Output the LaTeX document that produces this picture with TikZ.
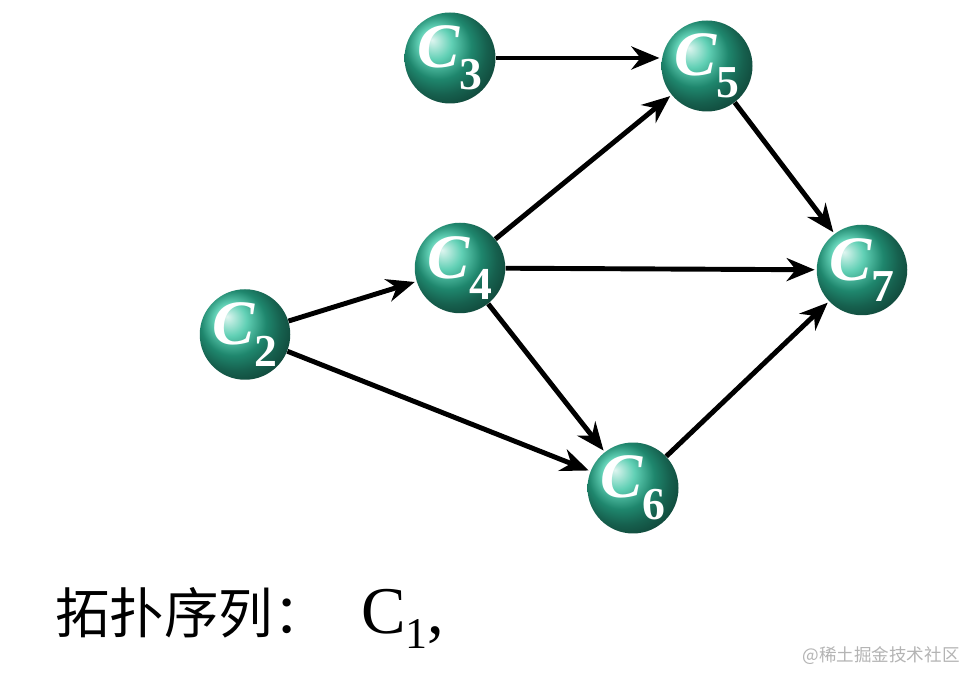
\documentclass[tikz,border=0pt]{standalone}
\usepackage{fontspec}
\setmainfont{Liberation Serif}
\newfontfamily\cjk{Noto Sans CJK SC}
\usepackage{xcolor}
\usetikzlibrary{arrows.meta,positioning,shadings}
\definecolor{ballteal}{HTML}{2CC09C}
\definecolor{markgray}{HTML}{B4B4B4}
\newcommand{\cv}[1]{C\raisebox{-0.34em}{\fontsize{26}{26}\selectfont\upshape #1}}
\tikzset{
  vertex/.style={circle,shading=ball,ball color=ballteal,minimum size=1.6cm,
                 inner sep=0pt,text=white,
                 font=\fontsize{36}{36}\selectfont\bfseries\itshape},
  edgearr/.style={-{Stealth[length=5.6mm,width=4.6mm]},line width=2.8pt,draw=black,
                  shorten >=1pt},
  caption/.style={anchor=base west,inner sep=0pt}
}

\begin{document}
\begin{tikzpicture}
  \useasboundingbox[fill=white] (0,0) rectangle (19.32,13.46);
  % vertices
  \node[vertex] (c3) at (9.00,12.30) {\cv{3}};
  \node[vertex] (c5) at (14.14,12.14) {\cv{5}};
  \node[vertex] (c4) at (9.20,8.10) {\cv{4}};
  \node[vertex] (c7) at (17.24,8.06) {\cv{7}};
  \node[vertex] (c2) at (4.90,6.77) {\cv{2}};
  \node[vertex] (c6) at (12.66,3.70) {\cv{6}};
  % edges
  \draw[edgearr] (c3) -- (c3 -| c5.west);
  \draw[edgearr] (c5) -- (c7);
  \draw[edgearr] (c4) -- (c5);
  \draw[edgearr] (c4) -- (c7);
  \draw[edgearr] (c4) -- (c6);
  \draw[edgearr] (c2) -- (c4);
  \draw[edgearr] (c2) -- (c6);
  \draw[edgearr] (c6) -- (c7);
  % sequence
  \node[caption,font=\cjk\fontsize{31}{31}\selectfont] (seq) at (1.10,0.78) {拓扑序列：};
  \node[caption,font=\fontsize{38}{38}\selectfont] (first) at (7.22,0.78)
    {C\raisebox{-0.22em}{\fontsize{25}{25}\selectfont 1},};
  \node[anchor=base east,inner sep=0pt,text=markgray,font=\cjk\fontsize{10}{10}\selectfont]
    (mark) at (19.20,0.22) {@稀土掘金技术社区};
\end{tikzpicture}
\end{document}
